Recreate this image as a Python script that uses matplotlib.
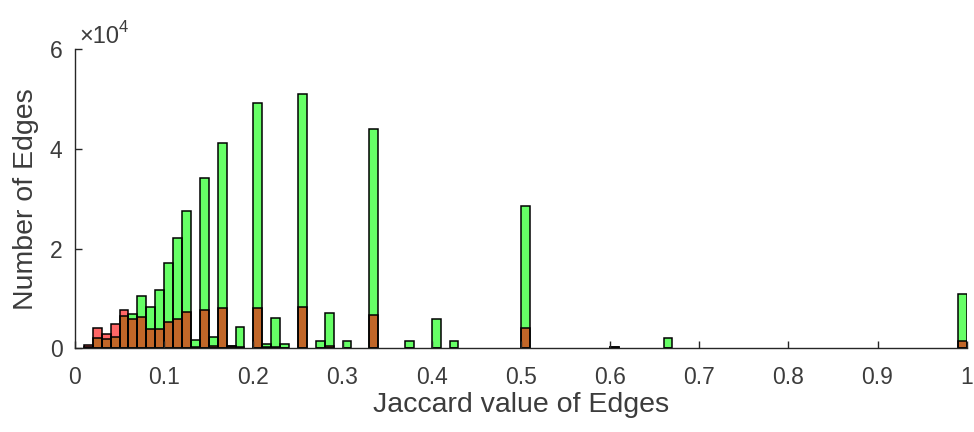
import matplotlib
matplotlib.use("Agg")
import matplotlib.pyplot as plt
import numpy as np

plt.rcParams["font.family"] = ["Liberation Sans", "DejaVu Sans"]

# Histogram counts per bin (bin index k covers [k/100, (k+1)/100))
bin_index = [1, 2, 3, 4, 5, 6, 7, 8, 9, 10, 11, 12, 13, 14, 15, 16, 17, 18,
             20, 21, 22, 23, 25, 27, 28, 30, 33, 37, 40, 42, 50, 60, 66, 99]
green_counts = [200, 2000, 1800, 2150, 6500, 6850, 10450, 8300, 11650, 17150,
                22100, 27600, 1600, 34100, 2300, 41300, 400, 4300,
                49200, 900, 6100, 900, 51000, 1350, 7000, 1350, 44100, 1350,
                5800, 1350, 28600, 300, 2100, 10800]
red_counts = [600, 4100, 2800, 4800, 7650, 5950, 6300, 3950, 3950, 5300,
              5950, 7300, 200, 7650, 400, 8000, 400, 300,
              8000, 200, 300, 0, 8200, 0, 500, 0, 6600, 0,
              0, 0, 4150, 300, 0, 1350]
bin_width = 0.01

x_ticks = [0, 0.1, 0.2, 0.3, 0.4, 0.5, 0.6, 0.7, 0.8, 0.9, 1]
x_tick_labels = ["0", "0.1", "0.2", "0.3", "0.4", "0.5", "0.6", "0.7", "0.8", "0.9", "1"]
y_ticks = [0, 20000, 40000, 60000]
y_tick_labels = ["0", "2", "4", "6"]

left_edges = np.array(bin_index) * bin_width

fig = plt.figure(figsize=(9.74, 4.32), dpi=100)
ax = fig.add_axes([0.077, 0.194, 0.9155, 0.6915])

ax.bar(left_edges, green_counts, width=bin_width, align="edge",
       color=(0, 1, 0), alpha=0.6, edgecolor="none")
ax.bar(left_edges, red_counts, width=bin_width, align="edge",
       color=(1, 0, 0), alpha=0.6, edgecolor="none")
# black outlines drawn on top
ax.bar(left_edges, green_counts, width=bin_width, align="edge",
       fill=False, edgecolor="black", linewidth=1.1)
ax.bar(left_edges, red_counts, width=bin_width, align="edge",
       fill=False, edgecolor="black", linewidth=1.1)

ax.set_xlim(0, 1)
ax.set_ylim(0, 60000)
ax.set_xticks(x_ticks)
ax.set_xticklabels(x_tick_labels)
ax.set_yticks(y_ticks)
ax.set_yticklabels(y_tick_labels)

grey = "#262626"
text_grey = "#3c3c3c"
for side in ["top", "right"]:
    ax.spines[side].set_visible(False)
for side in ["left", "bottom"]:
    ax.spines[side].set_color(grey)
    ax.spines[side].set_linewidth(1.0)
ax.tick_params(direction="in", length=5, width=1.0, colors=grey,
               labelsize=16.5, labelcolor=text_grey)
ax.tick_params(axis="x", pad=13)
ax.tick_params(axis="y", pad=9)

ax.set_xlabel("Jaccard value of Edges", fontsize=20.5, color=text_grey, labelpad=2)
ax.set_ylabel("Number of Edges", fontsize=20.5, color=text_grey, labelpad=8)
# exponent label like MATLAB's axis multiplier
ax.text(0.005, 1.02, "×10", transform=ax.transAxes,
        fontsize=17, color=text_grey, ha="left", va="baseline")
ax.annotate("4", xy=(0.005, 1.02), xycoords="axes fraction", xytext=(28, 8),
            textcoords="offset points", fontsize=12, color=text_grey,
            ha="left", va="baseline")

fig.savefig("out.png", dpi=100)
